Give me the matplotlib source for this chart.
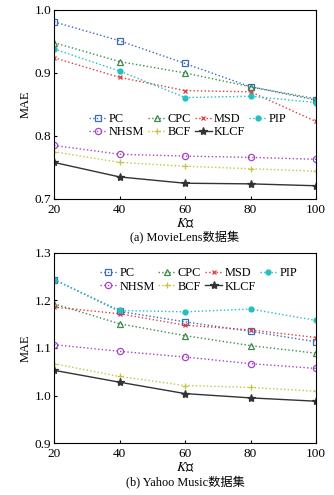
import matplotlib
matplotlib.use("Agg")
import matplotlib.pyplot as plt

plt.rcParams['font.family'] = ['Liberation Serif', 'Noto Sans CJK SC', 'DejaVu Sans']
plt.rcParams['mathtext.fontset'] = 'stix'

k_values = [20, 40, 60, 80, 100]
methods = ["PC", "CPC", "MSD", "PIP", "NHSM", "BCF", "KLCF"]

ml_pc = [0.981, 0.951, 0.915, 0.878, 0.857]
ml_cpc = [0.948, 0.918, 0.900, 0.878, 0.859]
ml_msd = [0.924, 0.893, 0.872, 0.870, 0.823]
ml_pip = [0.938, 0.903, 0.861, 0.863, 0.853]
ml_nhsm = [0.785, 0.771, 0.768, 0.766, 0.763]
ml_bcf = [0.775, 0.758, 0.752, 0.748, 0.744]
ml_klcf = [0.758, 0.735, 0.725, 0.724, 0.721]

ym_pc = [1.244, 1.177, 1.155, 1.135, 1.113]
ym_cpc = [1.193, 1.151, 1.126, 1.105, 1.089]
ym_msd = [1.186, 1.172, 1.148, 1.138, 1.122]
ym_pip = [1.244, 1.179, 1.176, 1.182, 1.158]
ym_nhsm = [1.107, 1.093, 1.081, 1.067, 1.057]
ym_bcf = [1.067, 1.040, 1.021, 1.017, 1.009]
ym_klcf = [1.053, 1.028, 1.004, 0.995, 0.988]

ml_series = [ml_pc, ml_cpc, ml_msd, ml_pip, ml_nhsm, ml_bcf, ml_klcf]
ym_series = [ym_pc, ym_cpc, ym_msd, ym_pip, ym_nhsm, ym_bcf, ym_klcf]

styles = {
    "PC": dict(color="#3b6cb7", ls=":", marker="s", mfc="none", ms=3.8),
    "CPC": dict(color="#3c8a4c", ls=":", marker="^", mfc="none", ms=4.5),
    "MSD": dict(color="#e03c3c", ls=":", marker="x", ms=3.2),
    "PIP": dict(color="#22c0c0", ls=":", marker="o", mfc="#22c0c0", ms=3.6),
    "NHSM": dict(color="#a546c4", ls=":", marker="o", mfc="none", ms=4.5),
    "BCF": dict(color="#c8c440", ls=":", marker="+", ms=5),
    "KLCF": dict(color="#333333", ls="-", marker="*", mfc="#333333", ms=6),
}

fig = plt.figure(figsize=(3.34, 4.95), dpi=100)
ax1 = fig.add_axes([0.162, 0.598, 0.784, 0.382])
ax2 = fig.add_axes([0.162, 0.105, 0.784, 0.384])

def draw(ax, series, ylim, yticks, leg_anchor):
    handles = {}
    for name, vals in zip(methods, series):
        st = styles[name]
        h, = ax.plot(k_values, vals, lw=1.0, mew=0.9, label=name, **st)
        handles[name] = h
    ax.set_xlim(20, 100)
    ax.set_ylim(*ylim)
    ax.set_xticks(k_values)
    ax.set_yticks(yticks)
    ax.set_yticklabels([f"{t:.1f}" for t in yticks])
    ax.tick_params(direction="in", length=2, labelsize=9.5)
    ax.tick_params(axis="x", pad=3.5)
    ax.tick_params(axis="y", pad=2)
    ax.set_ylabel("MAE", fontsize=9, labelpad=2)
    ax.set_xlabel("$K$值", fontsize=10, labelpad=0.5)
    for s in ax.spines.values():
        s.set_linewidth(0.8)
    order = ["PC", "NHSM", "CPC", "BCF", "MSD", "KLCF", "PIP"]
    ax.legend([handles[o] for o in order], order, ncol=4, frameon=False,
              loc="upper left", bbox_to_anchor=leg_anchor, fontsize=8.8,
              handlelength=1.4, handletextpad=0.2, columnspacing=0.3,
              labelspacing=0.1, borderpad=0.1, borderaxespad=0)

draw(ax1, ml_series, (0.7, 1.0), [0.7, 0.8, 0.9, 1.0], (0.13, 0.46))
draw(ax2, ym_series, (0.9, 1.3), [0.9, 1.0, 1.1, 1.2, 1.3], (0.17, 0.93))

fig.text(0.554, 0.519, "(a) MovieLens数据集", ha="center", va="center", fontsize=8.8)
fig.text(0.554, 0.024, "(b) Yahoo Music数据集", ha="center", va="center", fontsize=8.8)

fig.savefig("out.png", dpi=100)
